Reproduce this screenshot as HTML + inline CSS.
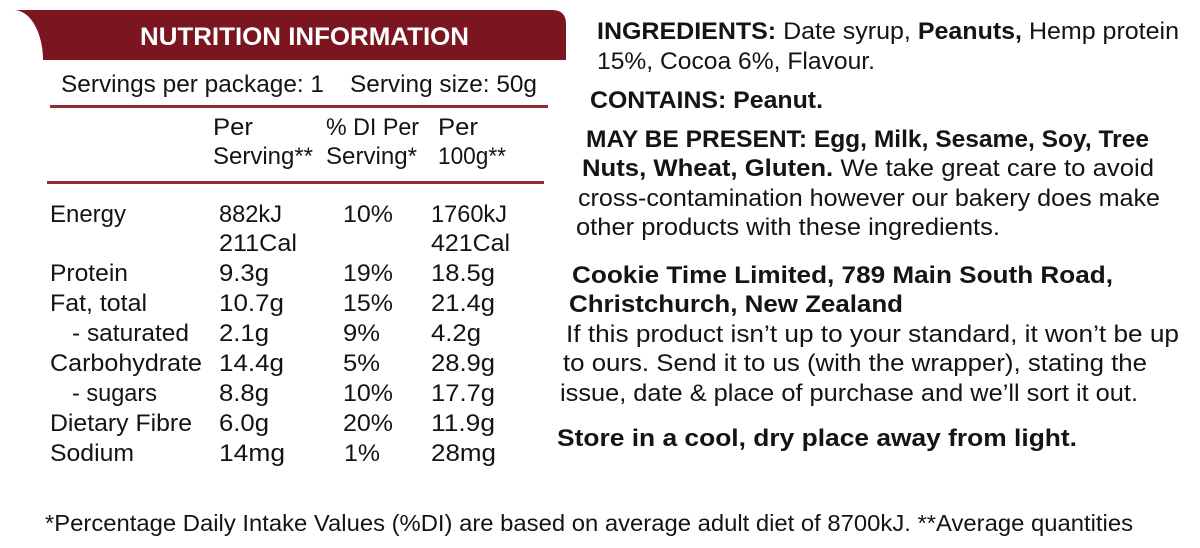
<!DOCTYPE html>
<html>
<head>
<meta charset="utf-8">
<style>
  html,body{margin:0;padding:0;background:#fff;}
  svg{display:block;}
  text{font-family:"Liberation Sans",Arial,sans-serif;font-size:24px;fill:#141414;}
  .b{font-weight:bold;}
</style>
</head>
<body>
<svg width="1200" height="548" viewBox="0 0 1200 548" xmlns="http://www.w3.org/2000/svg">
  <rect width="1200" height="548" fill="#fff"/>
  <!-- banner -->
  <path d="M14,10 L552,10 Q566,10 566,24 L566,60 L43,60 A29,50 0 0 0 14,10 Z" fill="#7b1520"/>
  <text x="140" y="45" class="b" style="font-size:25px;fill:#fff" textLength="329" lengthAdjust="spacingAndGlyphs">NUTRITION INFORMATION</text>

  <text x="61" y="92" textLength="263" lengthAdjust="spacingAndGlyphs">Servings per package: 1</text>
  <text x="350" y="92" textLength="187" lengthAdjust="spacingAndGlyphs">Serving size: 50g</text>
  <rect x="50" y="105" width="498" height="3" fill="#952a35"/>

  <text x="213" y="135" textLength="40" lengthAdjust="spacingAndGlyphs">Per</text>
  <text x="213" y="164" textLength="100" lengthAdjust="spacingAndGlyphs">Serving**</text>
  <text x="326" y="135" textLength="93" lengthAdjust="spacingAndGlyphs">% DI Per</text>
  <text x="326" y="164" textLength="91" lengthAdjust="spacingAndGlyphs">Serving*</text>
  <text x="438" y="135" textLength="40" lengthAdjust="spacingAndGlyphs">Per</text>
  <text x="438" y="164" textLength="68" lengthAdjust="spacingAndGlyphs">100g**</text>
  <rect x="47" y="181" width="497" height="3" fill="#952a35"/>

  <!-- rows -->
  <text x="50" y="222" textLength="76" lengthAdjust="spacingAndGlyphs">Energy</text>
  <text x="219" y="222" textLength="63" lengthAdjust="spacingAndGlyphs">882kJ</text>
  <text x="343" y="222" textLength="50" lengthAdjust="spacingAndGlyphs">10%</text>
  <text x="431" y="222" textLength="76" lengthAdjust="spacingAndGlyphs">1760kJ</text>

  <text x="219" y="251" textLength="78" lengthAdjust="spacingAndGlyphs">211Cal</text>
  <text x="431" y="251" textLength="79" lengthAdjust="spacingAndGlyphs">421Cal</text>

  <text x="50" y="281" textLength="78" lengthAdjust="spacingAndGlyphs">Protein</text>
  <text x="219" y="281" textLength="50" lengthAdjust="spacingAndGlyphs">9.3g</text>
  <text x="343" y="281" textLength="50" lengthAdjust="spacingAndGlyphs">19%</text>
  <text x="431" y="281" textLength="64" lengthAdjust="spacingAndGlyphs">18.5g</text>

  <text x="50" y="311" textLength="97" lengthAdjust="spacingAndGlyphs">Fat, total</text>
  <text x="219" y="311" textLength="65" lengthAdjust="spacingAndGlyphs">10.7g</text>
  <text x="343" y="311" textLength="50" lengthAdjust="spacingAndGlyphs">15%</text>
  <text x="431" y="311" textLength="64" lengthAdjust="spacingAndGlyphs">21.4g</text>

  <text x="72" y="341" textLength="117" lengthAdjust="spacingAndGlyphs">- saturated</text>
  <text x="219" y="341" textLength="50" lengthAdjust="spacingAndGlyphs">2.1g</text>
  <text x="343" y="341" textLength="37" lengthAdjust="spacingAndGlyphs">9%</text>
  <text x="431" y="341" textLength="50" lengthAdjust="spacingAndGlyphs">4.2g</text>

  <text x="50" y="371" textLength="152" lengthAdjust="spacingAndGlyphs">Carbohydrate</text>
  <text x="219" y="371" textLength="65" lengthAdjust="spacingAndGlyphs">14.4g</text>
  <text x="343" y="371" textLength="37" lengthAdjust="spacingAndGlyphs">5%</text>
  <text x="431" y="371" textLength="64" lengthAdjust="spacingAndGlyphs">28.9g</text>

  <text x="72" y="401" textLength="85" lengthAdjust="spacingAndGlyphs">- sugars</text>
  <text x="219" y="401" textLength="50" lengthAdjust="spacingAndGlyphs">8.8g</text>
  <text x="343" y="401" textLength="50" lengthAdjust="spacingAndGlyphs">10%</text>
  <text x="431" y="401" textLength="64" lengthAdjust="spacingAndGlyphs">17.7g</text>

  <text x="50" y="431" textLength="142" lengthAdjust="spacingAndGlyphs">Dietary Fibre</text>
  <text x="219" y="431" textLength="50" lengthAdjust="spacingAndGlyphs">6.0g</text>
  <text x="343" y="431" textLength="50" lengthAdjust="spacingAndGlyphs">20%</text>
  <text x="431" y="431" textLength="64" lengthAdjust="spacingAndGlyphs">11.9g</text>

  <text x="50" y="461" textLength="84" lengthAdjust="spacingAndGlyphs">Sodium</text>
  <text x="219" y="461" textLength="66" lengthAdjust="spacingAndGlyphs">14mg</text>
  <text x="344" y="461" textLength="36" lengthAdjust="spacingAndGlyphs">1%</text>
  <text x="431" y="461" textLength="65" lengthAdjust="spacingAndGlyphs">28mg</text>

  <!-- right column -->
  <text x="597" y="39" textLength="582" lengthAdjust="spacingAndGlyphs"><tspan class="b">INGREDIENTS:</tspan> Date syrup, <tspan class="b">Peanuts,</tspan> Hemp protein</text>
  <text x="597" y="69" textLength="278" lengthAdjust="spacingAndGlyphs">15%, Cocoa 6%, Flavour.</text>
  <text x="590" y="108" class="b" textLength="233" lengthAdjust="spacingAndGlyphs">CONTAINS: Peanut.</text>
  <text x="586" y="147" class="b" textLength="563" lengthAdjust="spacingAndGlyphs">MAY BE PRESENT: Egg, Milk, Sesame, Soy, Tree</text>
  <text x="582" y="176" textLength="572" lengthAdjust="spacingAndGlyphs"><tspan class="b">Nuts, Wheat, Gluten.</tspan> We take great care to avoid</text>
  <text x="578" y="206" textLength="582" lengthAdjust="spacingAndGlyphs">cross-contamination however our bakery does make</text>
  <text x="576" y="235" textLength="424" lengthAdjust="spacingAndGlyphs">other products with these ingredients.</text>

  <text x="572" y="283" class="b" textLength="541" lengthAdjust="spacingAndGlyphs">Cookie Time Limited, 789 Main South Road,</text>
  <text x="569" y="312" class="b" textLength="334" lengthAdjust="spacingAndGlyphs">Christchurch, New Zealand</text>
  <text x="566" y="342" textLength="613" lengthAdjust="spacingAndGlyphs">If this product isn’t up to your standard, it won’t be up</text>
  <text x="563" y="371" textLength="584" lengthAdjust="spacingAndGlyphs">to ours. Send it to us (with the wrapper), stating the</text>
  <text x="560" y="401" textLength="578" lengthAdjust="spacingAndGlyphs">issue, date &amp; place of purchase and we’ll sort it out.</text>
  <text x="557" y="446" class="b" textLength="520" lengthAdjust="spacingAndGlyphs">Store in a cool, dry place away from light.</text>

  <!-- footer -->
  <text x="45" y="531" style="font-size:23px" textLength="1088" lengthAdjust="spacingAndGlyphs">*Percentage Daily Intake Values (%DI) are based on average adult diet of 8700kJ. **Average quantities</text>
</svg>
</body>
</html>
